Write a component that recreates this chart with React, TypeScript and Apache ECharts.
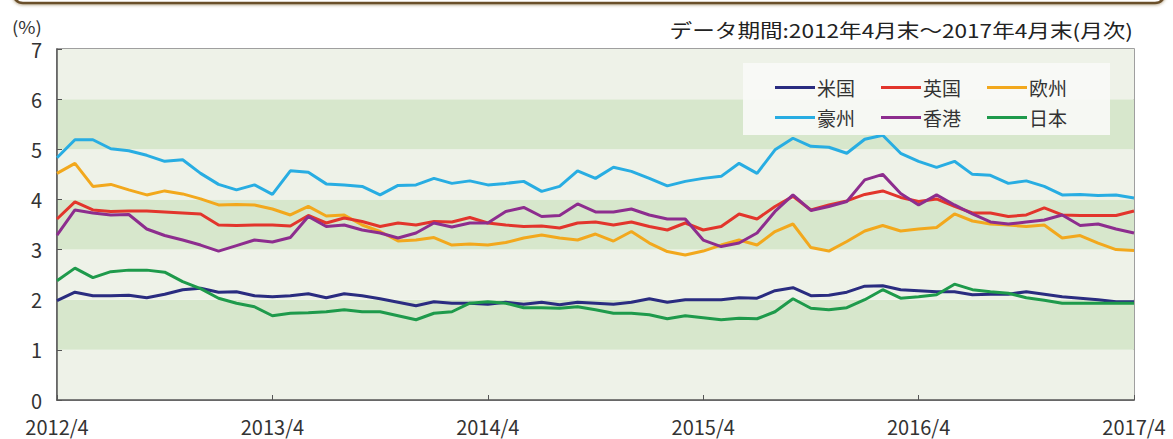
import React, { useEffect, useRef } from "react";
import * as echarts from "echarts";

const categories = [
  "2012/4","2012/5","2012/6","2012/7","2012/8","2012/9","2012/10","2012/11","2012/12","2013/1","2013/2","2013/3",
  "2013/4","2013/5","2013/6","2013/7","2013/8","2013/9","2013/10","2013/11","2013/12","2014/1","2014/2","2014/3",
  "2014/4","2014/5","2014/6","2014/7","2014/8","2014/9","2014/10","2014/11","2014/12","2015/1","2015/2","2015/3",
  "2015/4","2015/5","2015/6","2015/7","2015/8","2015/9","2015/10","2015/11","2015/12","2016/1","2016/2","2016/3",
  "2016/4","2016/5","2016/6","2016/7","2016/8","2016/9","2016/10","2016/11","2016/12","2017/1","2017/2","2017/3",
  "2017/4",
];

const us = [1.98,2.15,2.08,2.08,2.09,2.04,2.11,2.20,2.23,2.15,2.16,2.08,2.06,2.08,2.12,2.04,2.12,2.08,2.02,1.95,1.88,1.96,1.93,1.93,1.91,1.95,1.91,1.95,1.90,1.95,1.93,1.91,1.95,2.02,1.95,2.00,2.00,2.00,2.04,2.03,2.18,2.24,2.08,2.09,2.15,2.27,2.28,2.20,2.18,2.16,2.16,2.10,2.11,2.11,2.16,2.11,2.06,2.03,2.00,1.96,1.96];
const uk = [3.61,3.95,3.79,3.76,3.77,3.77,3.75,3.73,3.71,3.49,3.48,3.49,3.49,3.47,3.68,3.53,3.63,3.56,3.46,3.53,3.49,3.56,3.55,3.64,3.53,3.49,3.46,3.47,3.43,3.53,3.55,3.49,3.55,3.46,3.39,3.53,3.39,3.46,3.71,3.61,3.86,4.06,3.79,3.89,3.97,4.10,4.17,4.04,3.96,4.01,3.86,3.73,3.73,3.66,3.69,3.83,3.69,3.68,3.68,3.68,3.77];
const europe = [4.52,4.72,4.26,4.30,4.19,4.09,4.17,4.11,4.01,3.89,3.90,3.89,3.81,3.69,3.86,3.67,3.69,3.49,3.36,3.17,3.19,3.24,3.09,3.11,3.09,3.14,3.23,3.29,3.23,3.19,3.31,3.17,3.36,3.13,2.96,2.89,2.97,3.09,3.19,3.09,3.36,3.51,3.04,2.97,3.16,3.37,3.48,3.37,3.41,3.44,3.71,3.57,3.51,3.49,3.46,3.49,3.23,3.28,3.13,3.00,2.98];
const australia = [4.83,5.19,5.19,5.01,4.97,4.88,4.76,4.79,4.52,4.30,4.19,4.29,4.10,4.57,4.54,4.31,4.29,4.26,4.09,4.28,4.29,4.42,4.32,4.37,4.29,4.32,4.36,4.16,4.26,4.57,4.42,4.64,4.56,4.42,4.27,4.36,4.42,4.46,4.72,4.52,4.99,5.22,5.06,5.04,4.92,5.20,5.28,4.92,4.76,4.64,4.76,4.50,4.48,4.32,4.37,4.26,4.09,4.10,4.08,4.09,4.03];
const hongkong = [3.29,3.79,3.73,3.69,3.70,3.41,3.28,3.19,3.09,2.97,3.08,3.19,3.15,3.24,3.66,3.46,3.49,3.39,3.33,3.23,3.33,3.53,3.45,3.53,3.53,3.76,3.84,3.66,3.68,3.91,3.75,3.75,3.81,3.69,3.61,3.61,3.19,3.06,3.13,3.33,3.76,4.09,3.78,3.86,3.96,4.39,4.50,4.12,3.89,4.09,3.89,3.71,3.55,3.51,3.55,3.59,3.69,3.48,3.51,3.41,3.33];
const japan = [2.38,2.63,2.44,2.56,2.59,2.59,2.55,2.36,2.22,2.03,1.93,1.86,1.68,1.73,1.74,1.76,1.80,1.76,1.76,1.68,1.60,1.73,1.76,1.93,1.96,1.93,1.84,1.84,1.83,1.86,1.80,1.73,1.73,1.70,1.62,1.68,1.64,1.60,1.63,1.62,1.76,2.02,1.83,1.80,1.84,2.00,2.20,2.03,2.06,2.10,2.31,2.20,2.16,2.13,2.04,1.99,1.93,1.93,1.93,1.93,1.93];

const seriesNames = ["米国", "英国", "欧州", "豪州", "香港", "日本"];
const seriesColors = ["#2a2c80", "#e2352c", "#f2a81d", "#28ade2", "#8d2d8e", "#1e9a4b"];
const seriesData = [us, uk, europe, australia, hongkong, japan];
const drawOrder = [3, 2, 1, 4, 0, 5];

const legendRow1 = ["米国", "英国", "欧州"];
const legendRow2 = ["豪州", "香港", "日本"];

const titleText = "データ期間:2012年4月末～2017年4月末(月次)";
const unitText = "(%)";

const FONT = "'Noto Sans CJK JP', 'Noto Sans', sans-serif";

export default function App() {
  const ref = useRef<HTMLDivElement>(null);
  useEffect(() => {
    if (!ref.current) return;
    const chart = echarts.init(ref.current, null, { renderer: "svg" });
    const legendCommon = {
      left: 775,
      padding: 0,
      itemWidth: 40,
      itemHeight: 3,
      itemGap: 26,
      icon: "rect",
      textStyle: { fontSize: 19, color: "#333", fontFamily: FONT, padding: [0, 0, 0, -3] },
      selectedMode: false,
      z: 6,
    };
    chart.setOption({
      animation: false,
      backgroundColor: "#ffffff",
      textStyle: { fontFamily: FONT },
      grid: {
        left: 57,
        right: 39,
        top: 49,
        bottom: 39,
        show: true,
        borderColor: "#808080",
        borderWidth: 1.5,
        backgroundColor: "transparent",
      },
      legend: [
        { ...legendCommon, data: legendRow1, top: 78 },
        { ...legendCommon, data: legendRow2, top: 108 },
      ],
      graphic: [
        {
          type: "rect",
          shape: { x: 13, y: -30, width: 1152, height: 33, r: 10 },
          style: { fill: "#ffffff", stroke: "#6b4f2a", lineWidth: 2.5, shadowBlur: 3, shadowColor: "rgba(120,90,40,0.5)", shadowOffsetY: 1 },
          z: 10,
        },
        {
          type: "rect",
          shape: { x: 743, y: 63, width: 367, height: 72 },
          style: { fill: "rgba(249,250,246,0.92)" },
          z: 3,
        },
        {
          type: "text",
          x: 1133,
          y: 30,
          scaleX: 1.19,
          style: { text: titleText, fontSize: 19, fill: "#222", fontFamily: FONT, align: "right", verticalAlign: "middle" },
        },
        {
          type: "text",
          x: 12,
          y: 26,
          scaleX: 1.1,
          style: { text: unitText, fontSize: 17, fill: "#333", fontFamily: FONT, align: "left", verticalAlign: "middle" },
        },
      ],
      xAxis: {
        type: "category",
        data: categories,
        boundaryGap: false,
        axisLine: { show: true, lineStyle: { color: "#555", width: 1.5 } },
        axisTick: { show: true, inside: true, length: 5, interval: 11, lineStyle: { color: "#555" } },
        axisLabel: { interval: 11, fontSize: 20, color: "#333", margin: 16, fontFamily: FONT, lineHeight: 20 },
        splitLine: { show: false },
      },
      yAxis: {
        type: "value",
        min: 0,
        max: 7,
        interval: 1,
        axisLine: { show: true, lineStyle: { color: "#555", width: 1.5 } },
        axisTick: { show: true, inside: true, length: 5, lineStyle: { color: "#555" } },
        axisLabel: { fontSize: 20, color: "#333", margin: 15, fontFamily: FONT, lineHeight: 20 },
        splitLine: { show: false },
        splitArea: { show: true, areaStyle: { color: ["#eef2e8", "#d7e7cc"] } },
      },
      series: drawOrder.map((i) => ({
        name: seriesNames[i],
        type: "line",
        data: seriesData[i],
        symbol: "none",
        showSymbol: false,
        color: seriesColors[i],
        lineStyle: { width: 3, color: seriesColors[i] },
        z: 2 + drawOrder.indexOf(i) * 0.01,
      })),
    });
    return () => chart.dispose();
  }, []);
  return <div ref={ref} style={{ position: "fixed", left: 0, top: 0, width: 1173, height: 439 }} />;
}
